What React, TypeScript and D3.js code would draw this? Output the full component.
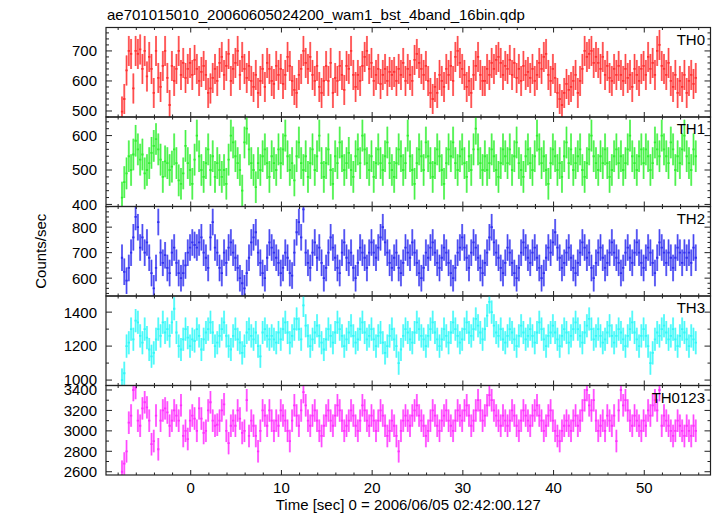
import React from "react";
import * as d3 from "d3";

const TITLE = "ae701015010_20060605024200_wam1_bst_4band_16bin.qdp";
const X_LABEL = "Time [sec] 0 = 2006/06/05 02:42:00.127";
const Y_LABEL = "Counts/sec";

const T_START = -7.7;
const BIN = 0.25;
const X_DOMAIN = [-9.34, 57.3];
const X_MAJOR = [0, 10, 20, 30, 40, 50];

const PANEL_NAMES = ["TH0", "TH1", "TH2", "TH3", "TH0123"];
const PANEL_COLORS = ["#ff3030", "#30f030", "#3030f0", "#30f8f8", "#ff30ff"];
const PANEL_DOMAINS = [[480, 778], [394, 654], [530, 881], [968, 1495], [2568, 3444]];
const PANEL_MAJOR = [[500, 600, 700], [400, 500, 600], [600, 700, 800], [1000, 1200, 1400], [2600, 2800, 3000, 3200, 3400]];
const PANEL_MINOR_STEP = [20, 20, 20, 100, 100];
const PANEL_ERR = [50, 46, 52, 68, 110];

const TH0 = [
  498, 540, 635, 700, 690, 575, 700, 690, 705, 640,
  700, 615, 680, 640, 560, 700, 610, 580, 650, 700,
  610, 520, 650, 600, 640, 700, 620, 660, 610, 640,
  660, 620, 670, 640, 600, 630, 650, 620, 560, 575,
  610, 640, 600, 660, 680, 620, 650, 690, 600, 640,
  660, 700, 620, 680, 640, 610, 650, 600, 580, 620,
  560, 600, 640, 580, 660, 640, 600, 590, 650, 620,
  640, 590, 620, 680, 650, 600, 570, 560, 620, 640,
  700, 660, 640, 680, 620, 600, 650, 580, 560, 600,
  650, 600, 660, 560, 610, 600, 650, 620, 570, 650,
  640, 700, 620, 580, 620, 600, 650, 680, 700, 640,
  660, 600, 620, 640, 590, 620, 640, 600, 630, 620,
  630, 600, 640, 620, 660, 600, 640, 620, 600, 670,
  690, 660, 640, 620, 650, 600, 560, 540, 580, 560,
  620, 600, 580, 640, 620, 650, 600, 680, 700, 660,
  640, 620, 580, 600, 560, 620, 650, 680, 620, 600,
  600, 640, 620, 660, 640, 670, 680, 660, 620, 650,
  640, 670, 620, 660, 610, 640, 600, 650, 620, 630,
  610, 640, 600, 620, 660, 640, 680, 690, 620, 600,
  640, 610, 560, 540, 520, 560, 590, 570, 580, 600,
  620, 560, 600, 640, 700, 680, 690, 700, 660, 680,
  660, 640, 680, 620, 650, 610, 600, 640, 620, 650,
  620, 600, 640, 610, 620, 580, 640, 620, 600, 640,
  650, 620, 680, 640, 660, 620, 700, 720, 650, 640,
  620, 660, 600, 580, 620, 560, 600, 580, 620, 560,
  600, 620, 590, 610,
];

const TH1 = [
  420, 465, 490, 540, 500, 545, 585, 560, 530, 545,
  490, 500, 520, 550, 570, 590, 560, 530, 480, 525,
  520, 500, 510, 560, 520, 470, 460, 490, 570, 520,
  500, 460, 530, 600, 540, 500, 480, 520, 560, 500,
  540, 480, 520, 500, 480, 500, 460, 530, 600, 580,
  540, 520, 500, 440, 580, 620, 560, 520, 500, 450,
  520, 500, 540, 560, 520, 480, 540, 520, 500, 560,
  520, 560, 600, 540, 500, 520, 470, 540, 580, 520,
  500, 540, 480, 520, 560, 500, 540, 600, 520, 480,
  520, 560, 500, 460, 540, 520, 580, 540, 500, 520,
  550, 500, 480, 540, 560, 520, 600, 560, 520, 500,
  540, 480, 520, 560, 520, 500, 540, 580, 520, 500,
  480, 520, 560, 540, 500, 520, 600, 540, 500, 460,
  520, 560, 540, 500, 580, 540, 520, 480, 520, 560,
  540, 500, 460, 520, 560, 540, 580, 520, 500, 540,
  560, 520, 480, 540, 500, 560, 620, 560, 520, 500,
  540, 500, 520, 560, 540, 500, 480, 520, 560, 540,
  520, 560, 500, 540, 580, 520, 500, 480, 540, 560,
  520, 500, 540, 600, 560, 520, 540, 500, 460, 520,
  560, 540, 500, 520, 480, 540, 580, 520, 560, 500,
  520, 540, 560, 500, 480, 520, 560, 600, 540, 520,
  500, 540, 520, 560, 520, 480, 500, 540, 560, 520,
  540, 500, 520, 560, 600, 540, 520, 500, 540, 560,
  520, 560, 540, 500, 520, 580, 560, 540, 600, 560,
  540, 520, 580, 560, 500, 540, 520, 560, 600, 540,
  520, 500, 560, 540,
];

const TH2 = [
  680, 625, 590, 640, 700, 760, 840, 800, 720, 760,
  700, 740, 680, 620, 560, 640, 820, 700, 660, 690,
  640, 620, 700, 720, 660, 620, 600, 620, 650, 700,
  720, 740, 730, 720, 740, 760, 700, 680, 640, 760,
  820, 720, 700, 640, 620, 700, 660, 720, 740, 700,
  680, 640, 600, 580, 560, 620, 680, 740, 760, 780,
  700, 660, 620, 600, 680, 740, 720, 700, 680, 660,
  620, 640, 700, 680, 620, 610, 700, 780, 820, 760,
  870, 700, 660, 640, 700, 740, 680, 720, 660, 600,
  640, 700, 760, 720, 680, 640, 620, 700, 740, 680,
  660, 700, 640, 600, 660, 720, 700, 680, 640, 700,
  740, 700, 680, 720, 760, 800, 740, 700, 660, 640,
  680, 700, 640, 620, 660, 720, 700, 680, 740, 700,
  660, 620, 600, 640, 700, 680, 720, 740, 700, 660,
  640, 680, 720, 700, 660, 620, 600, 640, 700, 720,
  760, 720, 680, 640, 700, 740, 720, 680, 640, 620,
  660, 700, 760, 800, 740, 700, 680, 640, 620, 660,
  720, 700, 660, 620, 600, 640, 700, 740, 720, 680,
  660, 700, 720, 680, 640, 600, 620, 680, 720, 700,
  740, 780, 720, 680, 640, 660, 700, 720, 680, 640,
  620, 660, 700, 740, 720, 680, 700, 640, 600, 660,
  700, 720, 680, 640, 660, 700, 740, 700, 680, 660,
  620, 640, 700, 720, 680, 660, 700, 740, 700, 660,
  640, 680, 720, 700, 660, 620, 680, 740, 720, 700,
  660, 700, 680, 640, 680, 720, 700, 660, 700, 680,
  700, 660, 720, 680,
];

const TH3 = [
  1000, 1040, 1200, 1220, 1300, 1240, 1350, 1340, 1260, 1220,
  1300, 1250, 1180, 1140, 1160, 1240, 1300, 1260, 1340, 1280,
  1300, 1260, 1340, 1420, 1280, 1200, 1180, 1240, 1300, 1250,
  1200, 1240, 1230, 1300, 1260, 1180, 1240, 1280, 1300, 1340,
  1280, 1200, 1220, 1260, 1300, 1340, 1260, 1200, 1180, 1260,
  1300, 1240, 1220, 1160, 1200, 1280, 1300, 1260, 1240, 1280,
  1200, 1140, 1280, 1300, 1260, 1240, 1260, 1240, 1220, 1280,
  1240, 1300, 1340, 1280, 1220, 1260, 1300, 1360, 1300, 1240,
  1440, 1320, 1260, 1200, 1240, 1280, 1320, 1260, 1220, 1180,
  1240, 1300, 1260, 1220, 1280, 1340, 1300, 1260, 1200, 1240,
  1280, 1320, 1260, 1220, 1240, 1300, 1340, 1280, 1240, 1260,
  1300, 1240, 1200, 1260, 1280, 1220, 1160, 1200, 1260, 1300,
  1240, 1200, 1100, 1180, 1260, 1300, 1280, 1240, 1220, 1280,
  1340, 1300, 1260, 1240, 1200, 1260, 1300, 1340, 1280, 1240,
  1200, 1240, 1300, 1260, 1220, 1280, 1340, 1300, 1260, 1220,
  1240, 1300, 1340, 1280, 1260, 1300, 1360, 1320, 1280, 1240,
  1300, 1380, 1460, 1400, 1320, 1280, 1260, 1300, 1240, 1220,
  1260, 1300, 1280, 1240, 1200, 1260, 1320, 1280, 1240, 1260,
  1300, 1260, 1220, 1280, 1340, 1300, 1240, 1200, 1260, 1280,
  1320, 1280, 1240, 1200, 1260, 1300, 1280, 1220, 1260, 1300,
  1340, 1300, 1260, 1220, 1280, 1320, 1360, 1300, 1240, 1260,
  1300, 1260, 1220, 1240, 1280, 1320, 1260, 1220, 1260, 1300,
  1280, 1240, 1200, 1260, 1300, 1340, 1280, 1240, 1200, 1260,
  1300, 1260, 1200, 1100, 1160, 1240, 1280, 1260, 1300, 1320,
  1280, 1240, 1260, 1300, 1240, 1200, 1260, 1300, 1280, 1240,
  1200, 1260, 1240, 1220,
];

const TH0123 = [
  2600, 2680, 2800, 3080, 3150, 3400, 3420, 3100, 3050, 3220,
  3280, 3230, 3100, 2870, 2900, 3150, 2820, 3100, 3200, 3220,
  3180, 3050, 3100, 3200, 3150, 3100, 3250, 2950, 3000, 2920,
  3100, 3150, 3120, 3000, 3220, 3120, 2980, 3000, 3200, 3280,
  3100, 3050, 3060, 3100, 3200, 3260, 3000, 2880, 3050, 3100,
  3050, 3200, 3120, 2980, 3000, 3300, 2950, 3100, 3050, 2950,
  2800, 3000, 3200, 3150, 3050, 3200, 3100, 3000, 3100, 3050,
  3200, 3150, 3100, 3000, 2900, 3100, 3250, 3150, 3050, 3200,
  3380, 3250, 3100, 3050, 3150, 3200, 3100, 3000, 2950, 3050,
  3150, 3200, 3100, 3050, 3150, 3250, 3200, 3100, 3000, 3050,
  3100, 3200, 3150, 3050, 3000, 3100, 3250, 3200, 3100, 3050,
  3150, 3100, 3000, 3100, 3200, 3150, 3050, 2950, 3000, 3100,
  3050, 2950, 2800, 3000, 3100, 3150, 3100, 3050, 3150, 3200,
  3250, 3150, 3100, 3050, 2950, 3000, 3100, 3200, 3150, 3050,
  3000, 3100, 3150, 3200, 3100, 3050, 3000, 3100, 3200, 3150,
  3100, 3200, 3250, 3150, 3050, 3100, 3200, 3300, 3200, 3100,
  3150, 3250, 3350, 3300, 3200, 3150, 3100, 3050, 3150, 3100,
  3050, 3100, 3200, 3150, 3050, 3000, 3100, 3200, 3150, 3100,
  3050, 3150, 3200, 3250, 3150, 3100, 3000, 3050, 3150, 3200,
  3100, 3000, 2950, 2900, 3000, 3050, 3100, 3050, 3000, 3100,
  3150, 3050, 3100, 3200, 3300, 3400, 3250, 3200, 3300, 3100,
  3000, 3050, 3100, 3000, 3150, 3100, 3050, 3150, 2900, 3200,
  3400, 3250, 3300, 3200, 3100, 3050, 3150, 3100, 3050, 3000,
  3100, 3050, 3200, 3150, 3250, 3300, 3200, 3400, 3050, 3150,
  3100, 3050, 3000, 2950, 3000, 3100, 3050, 3000, 2950, 3050,
  3000, 2950, 3050, 3000,
];

const SERIES = [TH0, TH1, TH2, TH3, TH0123];

const W = 717;
const H = 516;
const LEFT = 106;
const RIGHT = 710.5;
const TOP = 27.5;
const BOTTOM = 475;
const FONT = "'Liberation Sans', Arial, Helvetica, sans-serif";

export default function App() {
  const x = d3.scaleLinear().domain(X_DOMAIN).range([LEFT, RIGHT]);
  const ph = (BOTTOM - TOP) / SERIES.length;
  const xMinor = d3.range(-8, 58, 2).filter((v) => v % 10 !== 0);

  return (
    <svg width={W} height={H} style={{ position: "absolute", left: 0, top: 0, background: "#fff" }} fontFamily={FONT}>
      <rect x={0} y={0} width={W} height={H} fill="#fff" />
      <defs>
        {SERIES.map((_, p) => (
          <clipPath id={`clip${p}`} key={p}>
            <rect x={LEFT} y={TOP + p * ph} width={RIGHT - LEFT} height={ph} />
          </clipPath>
        ))}
      </defs>
      <text x={107} y={20} fontSize={15} fill="#000">{TITLE}</text>
      {SERIES.map((data, p) => {
        const y0 = TOP + p * ph;
        const y1 = y0 + ph;
        const y = d3.scaleLinear().domain(PANEL_DOMAINS[p]).range([y1, y0]);
        const color = PANEL_COLORS[p];
        const err = PANEL_ERR[p];
        const [dmin, dmax] = PANEL_DOMAINS[p];
        const yMinor = d3
          .range(Math.ceil(dmin / PANEL_MINOR_STEP[p]) * PANEL_MINOR_STEP[p], dmax, PANEL_MINOR_STEP[p])
          .filter((v) => !PANEL_MAJOR[p].includes(v));
        const errPath = data
          .map((v, i) => {
            const xc = x(T_START + (i + 0.5) * BIN);
            return `M${xc},${y(v - err)}V${y(v + err)}`;
          })
          .join("");
        const stepPath = data
          .map((v, i) => {
            const xa = x(T_START + i * BIN);
            const xb = x(T_START + (i + 1) * BIN);
            return `M${xa},${y(v)}H${xb}`;
          })
          .join("");
        return (
          <g key={p}>
            <g clipPath={`url(#clip${p})`}>
              <path d={errPath} stroke={color} strokeWidth={2} strokeOpacity={0.62} fill="none" />
              <path d={errPath} stroke={color} strokeWidth={0.8} strokeOpacity={0.9} fill="none" />
              <path d={stepPath} stroke={color} strokeWidth={1.8} fill="none" />
            </g>
            {X_MAJOR.map((t) => (
              <g key={`xm${t}`} stroke="#222" strokeWidth={1}>
                <line x1={x(t)} x2={x(t)} y1={y1} y2={y1 - 5} />
                <line x1={x(t)} x2={x(t)} y1={y0} y2={y0 + 5} />
              </g>
            ))}
            {xMinor.map((t) => (
              <g key={`xn${t}`} stroke="#222" strokeWidth={1}>
                <line x1={x(t)} x2={x(t)} y1={y1} y2={y1 - 2.5} />
                <line x1={x(t)} x2={x(t)} y1={y0} y2={y0 + 2.5} />
              </g>
            ))}
            {PANEL_MAJOR[p].map((v) => (
              <g key={`ym${v}`}>
                <line x1={LEFT} x2={LEFT + 6} y1={y(v)} y2={y(v)} stroke="#222" />
                <line x1={RIGHT} x2={RIGHT - 6} y1={y(v)} y2={y(v)} stroke="#222" />
                <text x={97} y={y(v)} dy="0.36em" textAnchor="end" fontSize={15} fill="#000">{v}</text>
              </g>
            ))}
            {yMinor.map((v) => (
              <g key={`yn${v}`} stroke="#222">
                <line x1={LEFT} x2={LEFT + 3} y1={y(v)} y2={y(v)} />
                <line x1={RIGHT} x2={RIGHT - 3} y1={y(v)} y2={y(v)} />
              </g>
            ))}
            <text x={705} y={y0 + 17} textAnchor="end" fontSize={15} fill="#000">{PANEL_NAMES[p]}</text>
            <rect x={LEFT} y={y0} width={RIGHT - LEFT} height={ph} fill="none" stroke="#222" strokeWidth={1.2} />
          </g>
        );
      })}
      {X_MAJOR.map((t) => (
        <text key={`xl${t}`} x={x(t)} y={493} textAnchor="middle" fontSize={15} fill="#000">{t}</text>
      ))}
      <text x={(LEFT + RIGHT) / 2} y={510} textAnchor="middle" fontSize={15} fill="#000">{X_LABEL}</text>
      <text transform={`translate(46,${(TOP + BOTTOM) / 2}) rotate(-90)`} textAnchor="middle" fontSize={15} fill="#000">{Y_LABEL}</text>
    </svg>
  );
}
